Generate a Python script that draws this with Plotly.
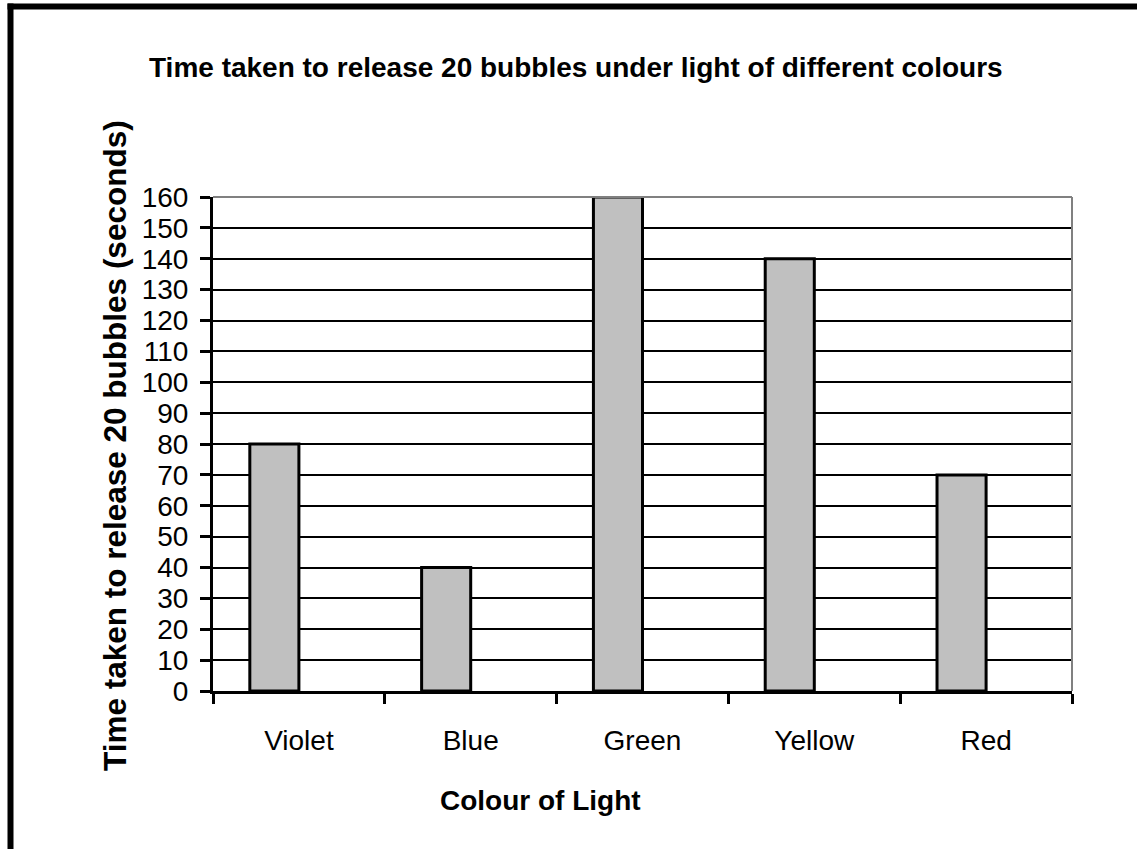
import plotly.graph_objects as go

categories = ["Violet", "Blue", "Green", "Yellow", "Red"]
times = [80, 40, 160, 140, 70]
y_ticks = list(range(0, 161, 10))

W, H = 1137, 849
L, R, T, B = 213, 1072, 197, 691
pw, ph = R - L, B - T


def px(x):
    return (x - L) / pw


def py(y):
    return (B - y) / ph


FONT = "Liberation Sans, Arial, sans-serif"

fig = go.Figure()
fig.add_trace(go.Bar(
    x=categories, y=times,
    width=0.2857, offset=-0.2857,
    marker=dict(color="#C0C0C0", line=dict(color="black", width=3)),
    showlegend=False,
))

fig.update_layout(
    width=W, height=H,
    margin=dict(l=L, r=W - R, t=T, b=H - B),
    paper_bgcolor="white", plot_bgcolor="white",
    font=dict(family=FONT, size=28, color="black"),
    xaxis=dict(
        type="category", showline=True, linecolor="black", linewidth=3,
        ticks="outside", tickson="boundaries", ticklen=10, tickwidth=3,
        tickcolor="black", showgrid=False, ticklabelstandoff=22,
        tickfont=dict(size=28),
    ),
    yaxis=dict(
        range=[0, 160], tickvals=y_ticks, showline=True, linecolor="black",
        linewidth=3, ticks="outside", ticklen=10, tickwidth=3, tickcolor="black",
        showgrid=True, gridcolor="black", gridwidth=2, zeroline=False,
        ticklabelstandoff=6, tickfont=dict(size=28),
    ),
    shapes=[
        dict(type="line", xref="paper", yref="paper", x0=0, x1=1, y0=1, y1=1,
             line=dict(color="#808080", width=2)),
        dict(type="line", xref="paper", yref="paper", x0=1, x1=1, y0=0, y1=1,
             line=dict(color="#808080", width=2)),
        dict(type="line", xref="paper", yref="paper", x0=px(10.5), x1=px(10.5),
             y0=py(3.5), y1=py(860), line=dict(color="black", width=6)),
        dict(type="line", xref="paper", yref="paper", x0=px(7.5), x1=px(1140),
             y0=py(6.5), y1=py(6.5), line=dict(color="black", width=6)),
    ],
    annotations=[
        dict(text="<b>Time taken to release 20 bubbles under light of different colours</b>",
             xref="paper", yref="paper", x=px(576), y=py(67), showarrow=False,
             xanchor="center", yanchor="middle", font=dict(size=28)),
        dict(text="<b>Time taken to release 20 bubbles (seconds)</b>",
             xref="paper", yref="paper", x=px(115), y=py(446), showarrow=False,
             textangle=-90, xanchor="center", yanchor="middle", font=dict(size=31.5)),
        dict(text="<b>Colour of Light</b>",
             xref="paper", yref="paper", x=px(540), y=py(800), showarrow=False,
             xanchor="center", yanchor="middle", font=dict(size=28)),
    ],
)

fig.write_html(
    "out.html",
    config={"displayModeBar": False},
    post_script="document.body.style.margin='0';document.body.style.overflow='hidden';",
)
